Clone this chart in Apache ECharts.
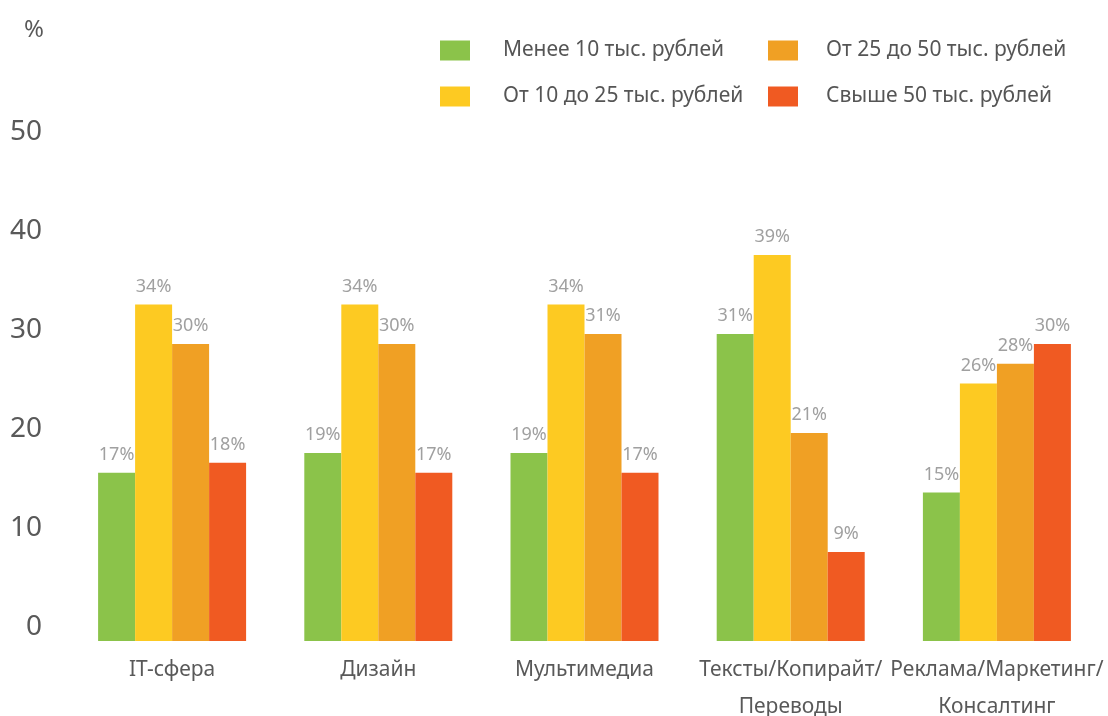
<!DOCTYPE html>
<html>
<head>
<meta charset="utf-8">
<script src="https://cdn.jsdelivr.net/npm/echarts@6/dist/echarts.min.js"></script>
<style>
  html, body { margin: 0; padding: 0; background: #fff; }
  #chart { width: 1108px; height: 716px; }
</style>
</head>
<body>
<div id="chart"></div>
<script>
const categories = ['IT-сфера', 'Дизайн', 'Мультимедиа', 'Тексты/Копирайт/Переводы', 'Реклама/Маркетинг/Консалтинг']
const seriesNames = ['Менее 10 тыс. рублей', 'От 10 до 25 тыс. рублей', 'От 25 до 50 тыс. рублей', 'Свыше 50 тыс. рублей']
const under10 = [17, 19, 19, 31, 15]
const from10to25 = [34, 34, 34, 39, 26]
const from25to50 = [30, 30, 31, 21, 28]
const over50 = [18, 17, 17, 9, 30]
const yTicks = [0, 10, 20, 30, 40, 50]

const colors = ['#8bc34a', '#fdca22', '#f0a024', '#f05a22']
const fontFamily = '"Noto Sans", "Open Sans", sans-serif'

const chart = echarts.init(document.getElementById('chart'))

const makeSeries = (name, data, color) => ({
  name,
  type: 'bar',
  data,
  barWidth: 37,
  barGap: '0%',
  itemStyle: { color },
  label: {
    show: true,
    position: 'top',
    distance: 9,
    color: '#a0a0a0',
    fontFamily,
    fontSize: 18,
    formatter: (p) => p.value + '%'
  }
})

const legendBase = (names, left, textGap) => ({
  data: names,
  orient: 'vertical',
  left,
  top: 35,
  itemWidth: 30,
  itemHeight: 20,
  itemGap: 25,
  icon: 'rect',
  textStyle: {
    color: '#555',
    fontFamily,
    fontSize: 21,
    lineHeight: 20,
    padding: [0, 0, 0, textGap]
  }
})

chart.setOption({
  backgroundColor: '#fff',
  animation: false,
  color: colors,
  graphic: [{
    type: 'text',
    left: 24,
    top: 18,
    style: { text: '%', fill: '#595959', font: '24px ' + fontFamily }
  }],
  legend: [
    legendBase([seriesNames[0], seriesNames[1]], 435, 28),
    legendBase([seriesNames[2], seriesNames[3]], 763, 23)
  ],
  grid: { left: 69, right: 8, top: 146, bottom: 75, containLabel: false, outerBoundsMode: 'none' },
  xAxis: {
    type: 'category',
    data: categories,
    axisLine: { show: false },
    axisTick: { show: false },
    axisLabel: {
      interval: 0,
      margin: 11,
      color: '#595959',
      fontFamily,
      fontSize: 21,
      lineHeight: 37,
      formatter: (v) => {
        const parts = v.split('/')
        if (parts.length < 3) return v
        return parts[0] + '/' + parts[1] + '/\n' + parts[2]
      }
    }
  },
  yAxis: {
    type: 'value',
    min: yTicks[0],
    max: yTicks[yTicks.length - 1],
    interval: 10,
    axisLine: { show: false },
    axisTick: { show: false },
    splitLine: { show: false },
    axisLabel: {
      margin: 27,
      color: '#595959',
      fontFamily,
      fontSize: 28,
      verticalAlign: 'bottom'
    }
  },
  series: [
    makeSeries(seriesNames[0], under10, colors[0]),
    makeSeries(seriesNames[1], from10to25, colors[1]),
    makeSeries(seriesNames[2], from25to50, colors[2]),
    makeSeries(seriesNames[3], over50, colors[3])
  ]
})
</script>
</body>
</html>
